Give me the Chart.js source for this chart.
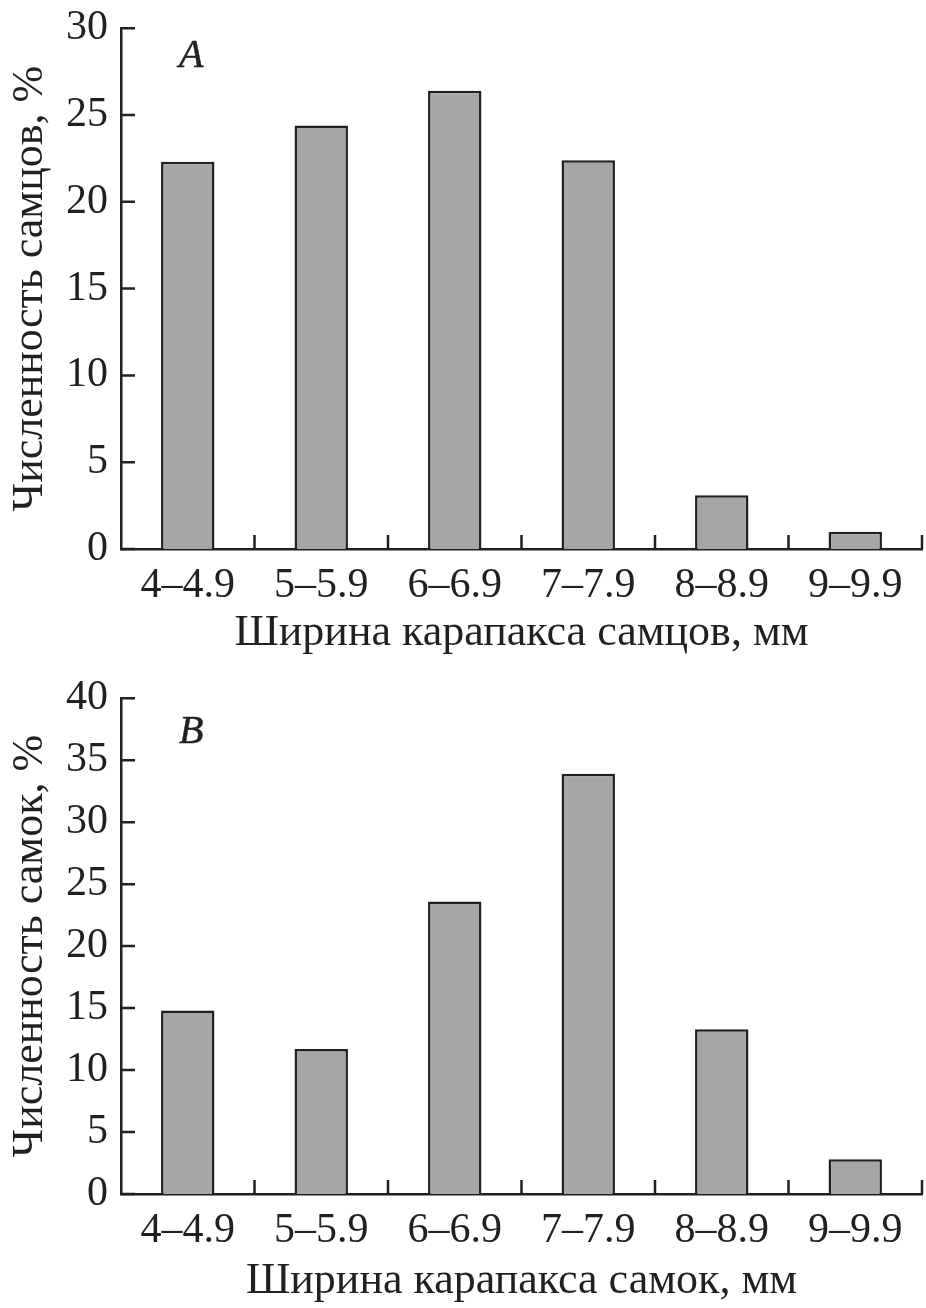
<!DOCTYPE html>
<html>
<head>
<meta charset="utf-8">
<script src="https://cdn.jsdelivr.net/npm/chart.js@4.4.0/dist/chart.umd.min.js"></script>
<style>
  body { margin: 0; background: #fff; overflow: hidden; }
  #wrap { position: relative; width: 926px; height: 1308px; overflow: hidden; }
  canvas { position: absolute; left: 0; }
  #chartA { top: -10px; }
  #chartB { top: 660px; }
</style>
</head>
<body>
<div id="wrap">
  <canvas id="chartA" width="926" height="670"></canvas>
  <canvas id="chartB" width="926" height="648"></canvas>
</div>
<script>
// size classes (carapace width, mm)
const sizeClasses = ["4–4.9", "5–5.9", "6–6.9", "7–7.9", "8–8.9", "9–9.9"];

// percentages
const malesPct = [22.3, 24.4, 26.4, 22.4, 3.1, 1.0];
const femalesPct = [14.8, 11.7, 23.6, 33.9, 13.3, 2.8];

const yMaxMales = 30;
const yMaxFemales = 40;
const yStep = 5;

const INK = "#231f20";
const BAR = "#a5a6a8";
const FONT = "Liberation Serif";

/* inward tick marks + panel letter */
const inwardTicks = {
  id: "inwardTicks",
  afterDraw(chart, args, opts) {
    const { ctx, chartArea } = chart;
    const x = chart.scales.x;
    const y = chart.scales.y;
    const len = 14;
    ctx.save();
    ctx.strokeStyle = INK;
    ctx.lineWidth = 2.5;
    ctx.beginPath();
    y.ticks.forEach(t => {
      const py = y.getPixelForValue(t.value);
      ctx.moveTo(chartArea.left, py);
      ctx.lineTo(chartArea.left + len, py);
    });
    const half = (x.getPixelForValue(1) - x.getPixelForValue(0)) / 2;
    for (let i = 1; i <= sizeClasses.length; i++) {
      const px = x.getPixelForValue(i - 1) + half;
      ctx.moveTo(px, chartArea.bottom);
      ctx.lineTo(px, chartArea.bottom - len);
    }
    ctx.stroke();

    ctx.fillStyle = INK;
    ctx.font = "italic 40px " + FONT;
    ctx.textBaseline = "alphabetic";
    ctx.lineWidth = 0.5;
    ctx.fillText(opts.letter, chartArea.left + 58, chartArea.top + opts.dy);
    ctx.strokeText(opts.letter, chartArea.left + 58, chartArea.top + opts.dy);
    ctx.restore();
  }
};

function makeChart(id, values, yMax, yTitle, xTitle, letter, pad) {
  return new Chart(document.getElementById(id), {
    type: "bar",
    data: {
      labels: sizeClasses,
      datasets: [{
        data: values,
        backgroundColor: BAR,
        borderColor: INK,
        borderWidth: 2.5,
        categoryPercentage: 1,
        barPercentage: 0.4
      }]
    },
    options: {
      responsive: false,
      animation: false,
      layout: { padding: { top: pad.top, right: 4, left: 0, bottom: 0 } },
      plugins: {
        legend: { display: false },
        tooltip: { enabled: false },
        inwardTicks: { letter, dy: pad.letterDy }
      },
      scales: {
        x: {
          grid: { display: false, drawTicks: false },
          border: { display: true, color: INK, width: 2.5 },
          ticks: { color: INK, font: { family: FONT, size: 42 }, padding: 12, maxRotation: 0 },
          title: {
            display: true, text: xTitle, color: INK,
            font: { family: FONT, size: 44 }, padding: { top: 2, bottom: 0 }
          },
          afterFit(scale) { scale.height = pad.xHeight; }
        },
        y: {
          min: 0,
          max: yMax,
          grid: { display: false, drawTicks: false },
          border: { display: true, color: INK, width: 2.5 },
          ticks: { stepSize: yStep, color: INK, font: { family: FONT, size: 42 }, padding: 13 },
          title: {
            display: true, text: yTitle, color: INK,
            font: { family: FONT, size: 44 }, padding: { top: 4, bottom: 0 }
          },
          afterFit(scale) { scale.width = 121; }
        }
      }
    },
    plugins: [inwardTicks]
  });
}

makeChart("chartA", malesPct, yMaxMales,
  "Численность самцов, %", "Ширина карапакса самцов, мм", "A",
  { top: 38, xHeight: 111, letterDy: 39 });

makeChart("chartB", femalesPct, yMaxFemales,
  "Численность самок, %", "Ширина карапакса самок, мм", "B",
  { top: 37, xHeight: 114, letterDy: 45 });
</script>
</body>
</html>
